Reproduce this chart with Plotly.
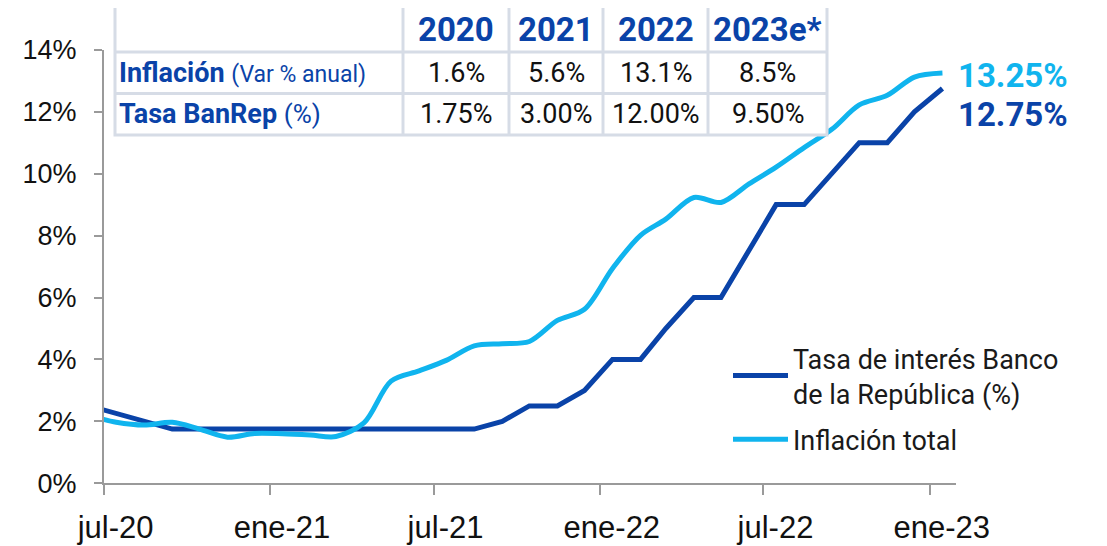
import plotly.graph_objects as go

# ---- data ----
months = ["2020-06-15", "2020-07-15", "2020-08-15", "2020-09-15", "2020-10-15", "2020-11-15", "2020-12-15",
          "2021-01-15", "2021-02-15", "2021-03-15", "2021-04-15", "2021-05-15", "2021-06-15",
          "2021-07-15", "2021-08-15", "2021-09-15", "2021-10-15", "2021-11-15", "2021-12-15",
          "2022-01-15", "2022-02-15", "2022-03-15", "2022-04-15", "2022-05-15", "2022-06-15",
          "2022-07-15", "2022-08-15", "2022-09-15", "2022-10-15", "2022-11-15", "2022-12-15",
          "2023-01-15"]
tasa_banrep = [2.50, 2.25, 2.00, 1.75, 1.75, 1.75, 1.75,
               1.75, 1.75, 1.75, 1.75, 1.75, 1.75,
               1.75, 1.75, 2.00, 2.50, 2.50, 3.00,
               4.00, 4.00, 5.00, 6.00, 6.00, 7.50,
               9.00, 9.00, 10.00, 11.00, 11.00, 12.00,
               12.75]
inflacion = [2.19, 1.97, 1.88, 1.97, 1.75, 1.49, 1.61,
             1.60, 1.56, 1.51, 1.95, 3.30, 3.63,
             3.97, 4.44, 4.51, 4.58, 5.26, 5.62,
             6.94, 8.01, 8.53, 9.23, 9.07, 9.67,
             10.21, 10.84, 11.44, 12.22, 12.53, 13.12,
             13.25]

tick_vals = ["2020-07-01", "2021-01-01", "2021-07-01", "2022-01-01", "2022-07-01", "2023-01-01"]
tick_text = ["jul-20", "ene-21", "jul-21", "ene-22", "jul-22", "ene-23"]
y_ticks = [0, 2, 4, 6, 8, 10, 12, 14]
y_text = ["0%", "2%", "4%", "6%", "8%", "10%", "12%", "14%"]

table_years = ["2020", "2021", "2022", "2023e*"]
table_inflacion = ["1.6%", "5.6%", "13.1%", "8.5%"]
table_tasa = ["1.75%", "3.00%", "12.00%", "9.50%"]
table_rows = [("Inflación", "(Var % anual)", 23, table_inflacion),
              ("Tasa BanRep", "(%)", 26, table_tasa)]

DARK = "#0A43A8"
LIGHT = "#10B4EE"
GRID = "#D6DCE6"
W, H = 1107, 546
OFF = 8  # page body offset

def px(v):
    return (v - OFF) / W

def py(v):
    return (H - (v - OFF)) / H

fig = go.Figure()
fig.add_trace(go.Scatter(x=months, y=tasa_banrep, mode="lines", legendgroup="a",
                         name="Tasa de interés Banco<br>de la República (%)",
                         line=dict(color=DARK, width=5)))
fig.add_trace(go.Scatter(x=months, y=inflacion, mode="lines", name="Inflación total", legendgroup="b",
                         line=dict(color=LIGHT, width=5, shape="spline", smoothing=0.9)))

# end labels
fig.add_annotation(x=months[-1], y=inflacion[-1], text="<b>13.25%</b>", showarrow=False,
                   xanchor="left", yanchor="middle", xshift=14, yshift=-2,
                   font=dict(family="Roboto", size=33, color=LIGHT))
fig.add_annotation(x=months[-1], y=tasa_banrep[-1], text="<b>12.75%</b>", showarrow=False,
                   xanchor="left", yanchor="middle", xshift=14, yshift=-26,
                   font=dict(family="Roboto", size=33, color=DARK))

# ---- table ----
col_edges = [115, 403, 509, 603, 708, 827]
row_edges = [6, 52, 93.5, 135]
fig.add_shape(type="rect", xref="paper", yref="paper", x0=px(col_edges[0]), x1=px(col_edges[-1]),
              y0=py(row_edges[-1]), y1=py(row_edges[0]), fillcolor="white",
              line=dict(color=GRID, width=3), layer="above")
for xe in col_edges[1:-1]:
    fig.add_shape(type="line", xref="paper", yref="paper", x0=px(xe), x1=px(xe),
                  y0=py(row_edges[-1]), y1=py(row_edges[0]), line=dict(color=GRID, width=3), layer="above")
for ye in row_edges[1:-1]:
    fig.add_shape(type="line", xref="paper", yref="paper", x0=px(col_edges[0]), x1=px(col_edges[-1]),
                  y0=py(ye), y1=py(ye), line=dict(color=GRID, width=3), layer="above")
centers = [(col_edges[i] + col_edges[i + 1]) / 2 for i in range(len(col_edges) - 1)]
for i, yr in enumerate(table_years):
    fig.add_annotation(xref="paper", yref="paper", x=px(centers[i + 1]), y=py((row_edges[0] + row_edges[1]) / 2 + 1),
                       text="<b>%s</b>" % yr, showarrow=False, xanchor="center", yanchor="middle",
                       font=dict(family="Roboto", size=33, color=DARK))
for r, (lab, sub, subsize, vals) in enumerate(table_rows):
    yc = py((row_edges[r + 1] + row_edges[r + 2]) / 2)
    fig.add_annotation(xref="paper", yref="paper", x=px(col_edges[0] + 2), y=yc,
                       text="<b>%s</b> <span style='font-size:%dpx'>%s</span>" % (lab, subsize, sub),
                       showarrow=False, xanchor="left", yanchor="middle",
                       font=dict(family="Roboto", size=27, color=DARK))
    for i, v in enumerate(vals):
        fig.add_annotation(xref="paper", yref="paper", x=px(centers[i + 1]), y=yc, text=v,
                           showarrow=False, xanchor="center", yanchor="middle",
                           font=dict(family="Roboto", size=27, color="#111111"))

fig.update_layout(
    width=W, height=H,
    margin=dict(l=0, r=0, t=0, b=0),
    paper_bgcolor="white", plot_bgcolor="white",
    showlegend=True,
    legend=dict(x=px(728), y=py(334), xanchor="left", yanchor="top",
                font=dict(family="Roboto", size=27, color="#1A1A1A"), itemwidth=55,
                bgcolor="rgba(0,0,0,0)", tracegroupgap=8),
    xaxis=dict(domain=[px(103.6), px(956)], type="date", automargin=False,
               range=["2020-07-01", "2023-01-30"],
               tickvals=tick_vals, ticktext=tick_text, ticks="outside", ticklen=10,
               tickcolor="#9A9A9A", tickwidth=1.5, showline=True, linecolor="#9A9A9A",
               linewidth=1.5, showgrid=False, zeroline=False, ticklabelshift=12,
               ticklabelstandoff=6,
               tickfont=dict(family="Liberation Sans, Arial", size=31, color="#111111")),
    yaxis=dict(domain=[py(483.3), py(49.8)], range=[0, 14], automargin=False,
               tickvals=y_ticks, ticktext=y_text, ticks="outside", ticklen=8,
               tickcolor="#9A9A9A", tickwidth=1.5, showline=True, linecolor="#9A9A9A",
               linewidth=1.5, showgrid=False, zeroline=False, ticklabelstandoff=12,
               tickfont=dict(family="Liberation Sans, Arial", size=27, color="#111111")),
)

fig.write_html("out.html")
